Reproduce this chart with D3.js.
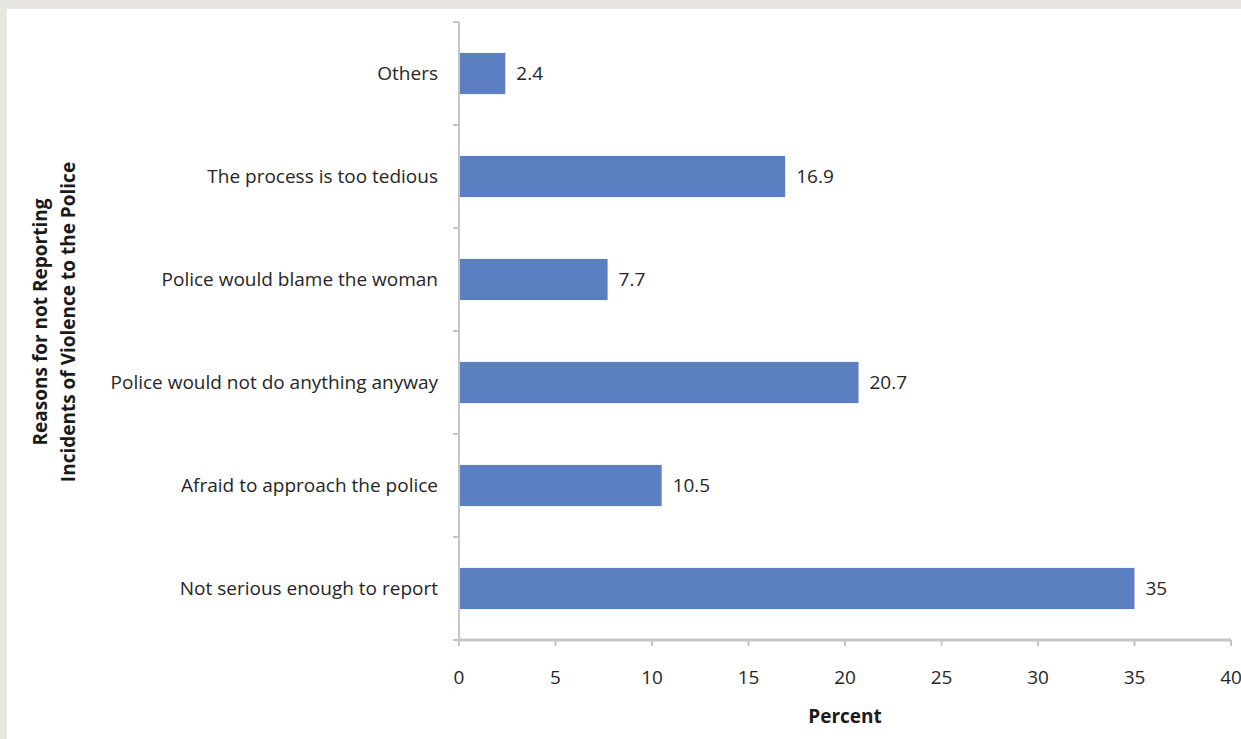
<!DOCTYPE html>
<html>
<head>
<meta charset="utf-8">
<script src="https://cdn.jsdelivr.net/npm/d3@7"></script>
<style>
  html, body { margin: 0; padding: 0; background: #e7e5e0; }
  svg { display: block; }
</style>
</head>
<body>
<svg id="chart" width="1241" height="739"></svg>
<script>
const categories = [
  "Others",
  "The process is too tedious",
  "Police would blame the woman",
  "Police would not do anything anyway",
  "Afraid to approach the police",
  "Not serious enough to report"
];
const values = [2.4, 16.9, 7.7, 20.7, 10.5, 35];
const xTicks = [0, 5, 10, 15, 20, 25, 30, 35, 40];
const xTitle = "Percent";
const yTitleLines = ["Reasons for not Reporting", "Incidents of Violence to the Police"];

const svg = d3.select("#chart");
const W = 1241, H = 739;
const font = "'Open Sans', Lato, sans-serif";
const fs = 19;
const fw = 500;

// textured frame background
svg.append("rect").attr("x", 0).attr("y", 0).attr("width", W).attr("height", H).attr("fill", "#e8e6e1");
// white panel
svg.append("rect").attr("x", 7).attr("y", 9).attr("width", W - 7).attr("height", H - 9).attr("fill", "#ffffff");

const x0 = 459, x1 = 1231, yTop = 22, yBot = 640;
const x = d3.scaleLinear().domain([0, 40]).range([x0, x1]);
const y = d3.scaleBand().domain(categories).range([yTop, yBot]).paddingInner(0.6).paddingOuter(0.3);
const band = d3.scaleBand().domain(categories).range([yTop, yBot]);

const axisColor = "#c6c6c6";
const textColor = "#262626";

// bars
svg.append("g").selectAll("rect").data(categories).join("rect")
  .attr("x", x(0))
  .attr("y", d => y(d))
  .attr("width", (d, i) => x(values[i]) - x(0))
  .attr("height", y.bandwidth())
  .attr("fill", "#5b7fc1");

// y axis
const gy = svg.append("g");
gy.append("line").attr("x1", x0).attr("x2", x0).attr("y1", yTop).attr("y2", yBot)
  .attr("stroke", axisColor).attr("stroke-width", 2);
const bounds = categories.map(c => band(c)).concat([yBot]);
gy.selectAll("line.tk").data(bounds).join("line").attr("class", "tk")
  .attr("x1", x0 - 6).attr("x2", x0).attr("y1", d => d).attr("y2", d => d)
  .attr("stroke", axisColor).attr("stroke-width", 2);
gy.selectAll("text").data(categories).join("text")
  .attr("x", x0 - 21)
  .attr("y", d => band(d) + band.bandwidth() / 2)
  .attr("dy", "0.35em")
  .attr("text-anchor", "end")
  .attr("font-family", font).attr("font-size", fs).attr("font-weight", fw).attr("fill", textColor)
  .text(d => d);

// x axis
const gx = svg.append("g");
gx.append("line").attr("x1", x0).attr("x2", x1).attr("y1", yBot).attr("y2", yBot)
  .attr("stroke", axisColor).attr("stroke-width", 3);
gx.selectAll("line.tk").data(xTicks).join("line").attr("class", "tk")
  .attr("x1", d => x(d)).attr("x2", d => x(d)).attr("y1", yBot).attr("y2", yBot + 6)
  .attr("stroke", axisColor).attr("stroke-width", 2);
gx.selectAll("text").data(xTicks).join("text")
  .attr("x", d => x(d)).attr("y", 677).attr("dy", "0.35em")
  .attr("text-anchor", "middle")
  .attr("font-family", font).attr("font-size", fs).attr("font-weight", fw).attr("fill", textColor)
  .text(d => d);

// value labels
svg.append("g").selectAll("text").data(categories).join("text")
  .attr("x", (d, i) => x(values[i]) + 11)
  .attr("y", d => y(d) + y.bandwidth() / 2)
  .attr("dy", "0.35em")
  .attr("font-family", font).attr("font-size", fs).attr("font-weight", fw).attr("fill", textColor)
  .text((d, i) => values[i]);

// axis titles
svg.append("text").attr("x", 845).attr("y", 716).attr("dy", "0.35em")
  .attr("text-anchor", "middle").attr("font-family", font).attr("font-size", fs)
  .attr("font-weight", "bold").attr("fill", "#1a1a1a").text(xTitle);

const yt = svg.append("text").attr("transform", "translate(54,322) rotate(-90)")
  .attr("text-anchor", "middle").attr("font-family", font).attr("font-size", fs)
  .attr("font-weight", "bold").attr("fill", "#1a1a1a");
yt.selectAll("tspan").data(yTitleLines).join("tspan")
  .attr("x", 0).attr("y", (d, i) => (i - 0.5) * 28).attr("dy", "0.35em").text(d => d);
</script>
</body>
</html>
